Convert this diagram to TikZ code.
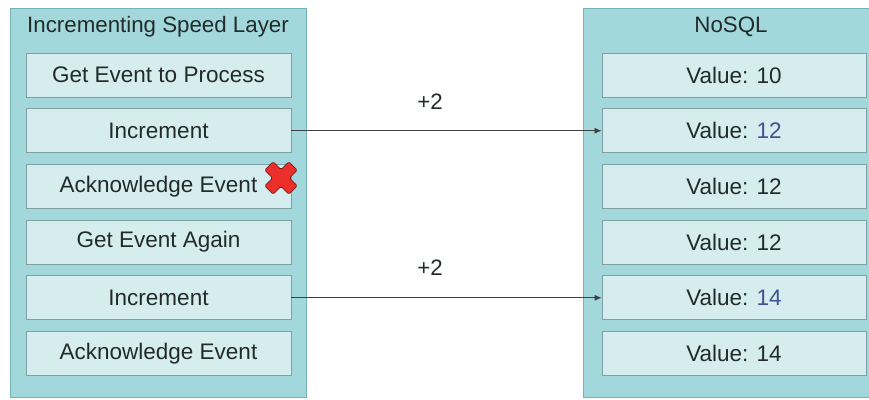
\documentclass[tikz,border=0pt]{standalone}
\usepackage{fontspec}
\setmainfont{Liberation Sans}
\usetikzlibrary{arrows.meta}
\definecolor{panelfill}{HTML}{A2D8DB}
\definecolor{paneldraw}{HTML}{74B4B8}
\definecolor{cellfill}{HTML}{D5EDEF}
\definecolor{celldraw}{HTML}{7F9FA1}
\definecolor{inktext}{HTML}{222A2A}
\definecolor{valblue}{HTML}{3D5290}
\definecolor{crossred}{HTML}{EC2F2A}
\definecolor{crossedge}{HTML}{7A1A18}
\tikzset{
  panel/.style={draw=paneldraw, line width=1pt, fill=panelfill},
  cell/.style={draw=celldraw, line width=0.9pt, fill=cellfill, minimum height=44pt,
    inner sep=0pt, text=inktext, font=\fontsize{22.5}{26}\selectfont},
  lcell/.style={cell, minimum width=265pt},
  rcell/.style={cell, minimum width=264pt},
  heading/.style={text=inktext, font=\fontsize{22.3}{26}\selectfont, inner sep=0pt},
  flow/.style={draw=black!75, line width=0.8pt, -{Latex[length=7pt,width=6pt]}},
}
\begin{document}
\begin{tikzpicture}[x=1pt,y=-1pt]
  \clip (0,0) rectangle (869,399);
  \fill[white] (0,0) rectangle (869,399);

  % left panel: processing steps
  \draw[panel] (10,8) rectangle (306,397);
  \node[heading] (lt) at (158,27) {Incrementing Speed Layer};
  \node[lcell] (l1) at (158.5,75)    {Get Event to Process};
  \node[lcell] (l2) at (158.5,130.7) {Increment};
  \node[lcell] (l3) at (158.5,186.4) {Acknowledge Event};
  \node[lcell] (l4) at (158.5,242.1) {Get Event Again};
  \node[lcell] (l5) at (158.5,297.8) {Increment};
  \node[lcell] (l6) at (158.5,353.5) {Acknowledge Event};

  % right panel: stored values
  \draw[panel] (583,8) rectangle (880,397);
  \node[heading] (rt) at (731,27) {NoSQL};
  \node[rcell] (r1) at (734,75)    {Value: 10};
  \node[rcell] (r2) at (734,130.7) {Value: \textcolor{valblue}{12}};
  \node[rcell] (r3) at (734,186.4) {Value: 12};
  \node[rcell] (r4) at (734,242.1) {Value: 12};
  \node[rcell] (r5) at (734,297.8) {Value: \textcolor{valblue}{14}};
  \node[rcell] (r6) at (734,353.5) {Value: 14};

  % increments written to the store
  \draw[flow] (l2.east) -- (r2.west);
  \draw[flow] (l5.east) -- (r5.west);
  \node[heading] (p1) at (430,102) {+2};
  \node[heading] (p2) at (430,268) {+2};

  % failed acknowledgement mark
  \begin{scope}[shift={(281,178)}, rotate=45]
    \filldraw[fill=crossred, draw=crossedge, line width=0.7pt, rounded corners=1.5pt]
      (6,17) -- (6,6) -- (17,6) -- (17,-6) -- (6,-6) -- (6,-17) -- (-6,-17)
      -- (-6,-6) -- (-17,-6) -- (-17,6) -- (-6,6) -- (-6,17) -- cycle;
  \end{scope}
\end{tikzpicture}
\end{document}
